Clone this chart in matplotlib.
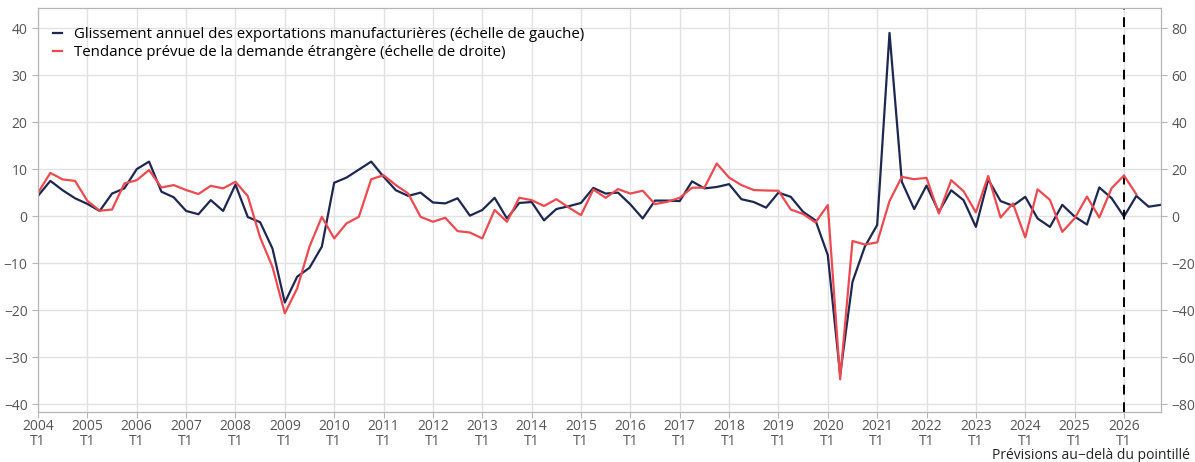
import matplotlib.pyplot as plt
import numpy as np

# Quarterly data, 2004 T1 onwards
exports_yoy = [
    4.3, 7.5, 5.5, 3.8,
    2.6, 1.1, 4.8, 5.9,
    10.0, 11.6, 5.2, 4.0,
    1.1, 0.4, 3.4, 1.1,
    6.7, -0.2, -1.3, -6.9,
    -18.4, -12.9, -11.0, -6.5,
    7.1, 8.2, 9.9, 11.6,
    8.4, 5.5, 4.3, 5.0,
    2.9, 2.7, 3.8, 0.1,
    1.3, 3.9, -0.5, 2.8,
    3.0, -0.9, 1.5, 2.1,
    2.8, 6.0, 4.8, 5.0,
    2.5, -0.5, 3.3, 3.3,
    3.2, 7.4, 5.9, 6.2,
    6.8, 3.6, 3.0, 1.8,
    5.0, 4.1, 0.9, -0.9,
    -8.3, -33.8, -14.0, -6.5,
    -1.9, 39.0, 7.3, 1.5,
    6.5, 0.9, 5.5, 3.4,
    -2.3, 7.8, 3.2, 2.2,
    4.1, -0.5, -2.3, 2.4,
    -0.1, -1.8, 6.1, 3.8,
    -0.1, 4.3, 2.0, 2.4,
]

foreign_demand = [
    9.9, 18.4, 15.6, 15.0,
    6.5, 2.3, 2.8, 13.9,
    15.3, 19.6, 12.2, 13.2,
    11.1, 9.4, 12.9, 11.8,
    14.6, 8.5, -9.1, -21.6,
    -41.4, -30.8, -13.0, -0.3,
    -9.5, -3.1, -0.3, 15.7,
    17.4, 13.2, 9.6, -0.3,
    -2.4, -0.7, -6.4, -7.0,
    -9.5, 2.6, -2.4, 7.8,
    6.8, 4.3, 7.2, 3.7,
    0.4, 11.3, 7.8, 11.5,
    9.6, 10.8, 5.1, 6.1,
    7.8, 12.1, 12.1, 22.4,
    16.4, 13.2, 11.1, 10.9,
    10.8, 2.8, 0.9, -2.7,
    4.7, -69.5, -10.6, -12.1,
    -11.2, 6.4, 16.7, 15.7,
    16.3, 1.1, 15.3, 10.6,
    1.6, 17.1, -0.6, 5.4,
    -9.1, 11.4, 6.9, -6.7,
    -1.0, 8.3, -0.6, 11.9,
    17.3, 9.3,
]

years = list(range(2004, 2027))
forecast_start = 88  # 2026 T1

plt.rcParams['font.family'] = ['Open Sans', 'DejaVu Sans']

navy = '#1d2750'
red = '#ec4a50'
grey = '#555555'

fig = plt.figure(figsize=(11.95, 4.62), dpi=100)
ax = fig.add_axes([38 / 1195, 50 / 462, (1161 - 38) / 1195, (412 - 8) / 462])
ax2 = ax.twinx()

l1, = ax.plot(np.arange(len(exports_yoy)), exports_yoy, color=navy, lw=1.6,
              label='Glissement annuel des exportations manufacturières (échelle de gauche)')
l2, = ax2.plot(np.arange(len(foreign_demand)), foreign_demand, color=red, lw=1.6,
               label='Tendance prévue de la demande étrangère (échelle de droite)')
ax.axvline(forecast_start, color='black', lw=1.4, ls=(0, (5, 4)), zorder=5)

ax.set_xlim(0, 91)
ax.set_ylim(-41.7, 44.3)
ax2.set_ylim(-83.4, 88.6)
ax.set_yticks(range(-40, 41, 10))
ax2.set_yticks(range(-80, 81, 20))
ax.set_xticks([4 * (y - 2004) for y in years])
ax.set_xticklabels([f'{y}\nT1' for y in years], linespacing=1.05)

ax.grid(True, color='#e2e2e2', lw=1)
ax.set_axisbelow(True)

for a in (ax, ax2):
    for s in a.spines.values():
        s.set_color('#b5b5b5')
    a.tick_params(colors='#b5b5b5', labelcolor=grey, labelsize=10, length=4)
ax.tick_params(axis='x', pad=1)

leg = ax.legend(handles=[l1, l2], loc='upper left', frameon=False, fontsize=10.8,
                handlelength=0.6, handletextpad=0.8, borderaxespad=0.3,
                labelspacing=0.2, bbox_to_anchor=(0.004, 0.978))
leg.set_zorder(10)

fig.text(1190 / 1195, 1 - 459 / 462, 'Prévisions au−delà du pointillé',
         ha='right', va='baseline', fontsize=10, color='#222222')

fig.savefig('out.png', dpi=100)
